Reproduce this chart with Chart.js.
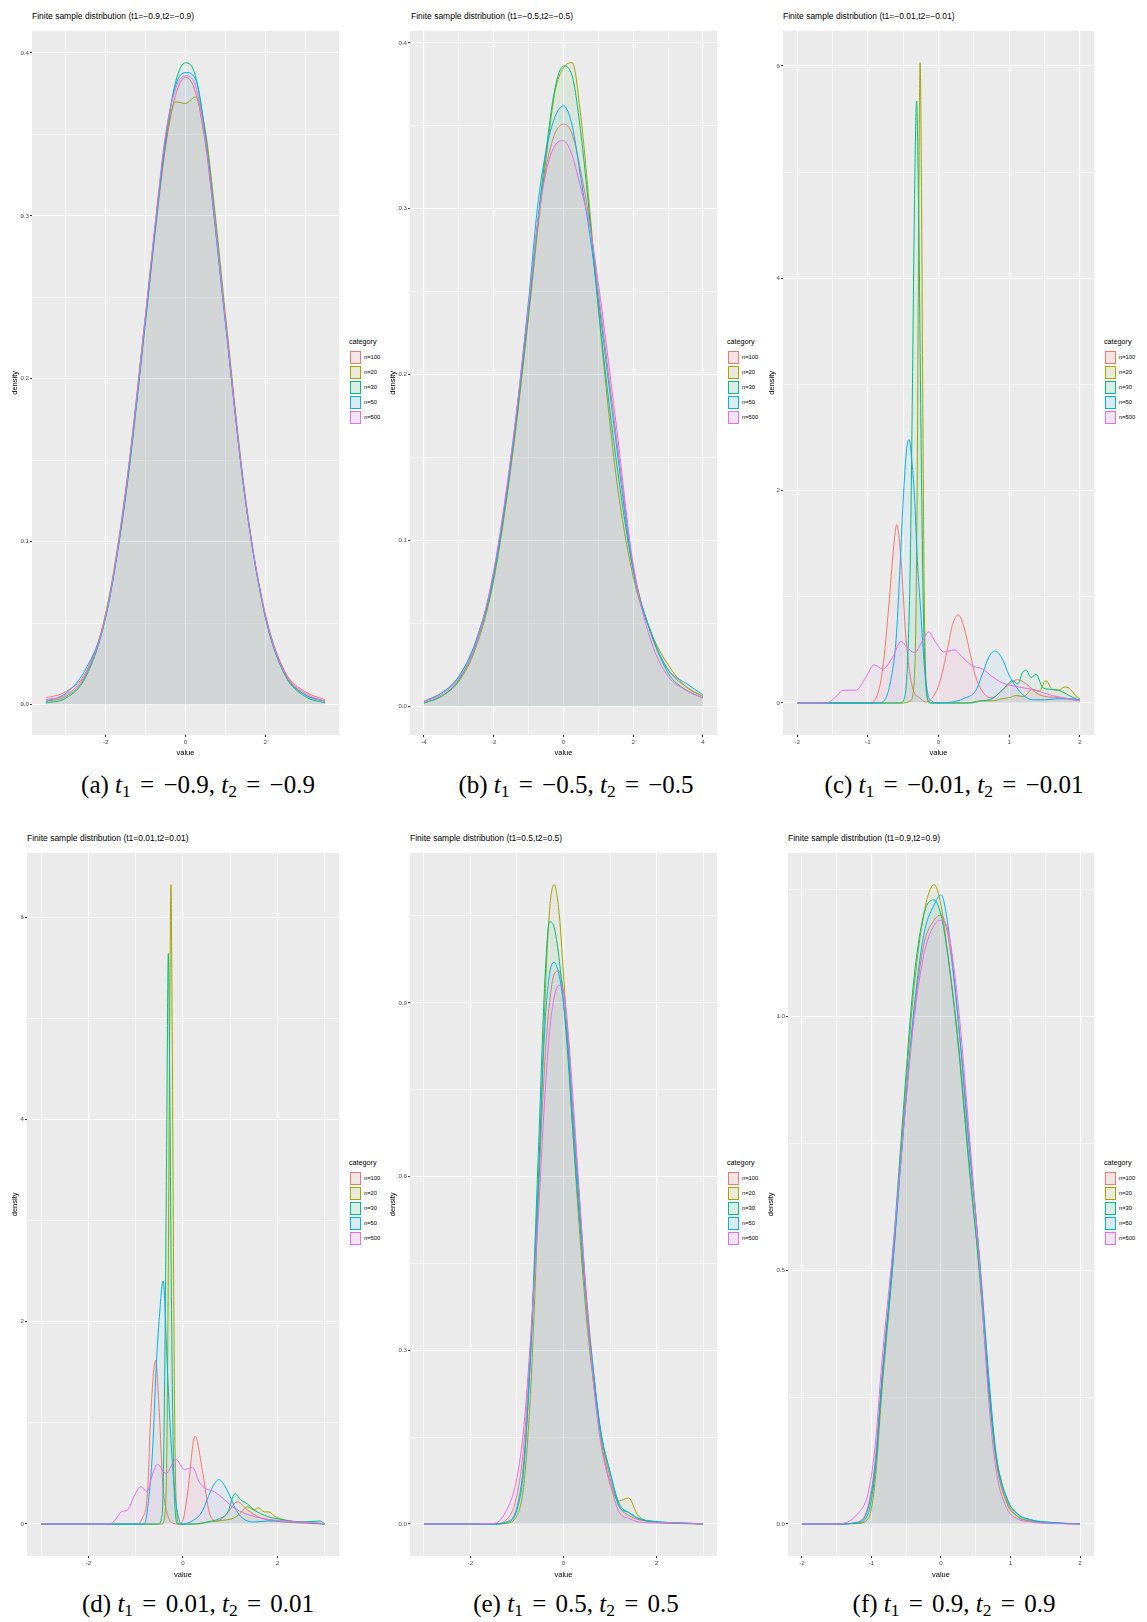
<!DOCTYPE html>
<html>
<head>
<meta charset="utf-8">
<script src="https://cdn.jsdelivr.net/npm/chart.js@4.4.1/dist/chart.umd.min.js"></script>
<style>
body { margin: 0; background: #fff; }
#pagina { position: relative; width: 1147px; height: 1622px; overflow: hidden; font-family: 'Liberation Sans', Arial, sans-serif; }
canvas { position: absolute; }
.titulo { position: absolute; font-size: 8.5px; line-height: 10px; color: #000; white-space: nowrap; }
.leyenda { position: absolute; color: #000; }
.leyenda .lt { font-size: 7.2px; line-height: 10px; white-space: nowrap; }
.leyenda .clave { position: absolute; left: 1px; width: 11px; height: 13px; box-sizing: border-box; border: 1px solid; }
.leyenda .lab { position: absolute; left: 15px; line-height: 13px; font-size: 5.8px; white-space: nowrap; }
.pie { position: absolute; width: 360px; text-align: center; font-family: 'Liberation Serif', 'Times New Roman', serif; font-size: 25px; line-height: 26px; white-space: nowrap; color: #000; }
.pie sub { font-size: 0.7em; vertical-align: -0.25em; line-height: 0; }
.pie .ig { margin: 0 3px; }
</style>
</head>
<body>
<div id="pagina"></div>
<script>
// Categorías y colores (paleta por defecto de ggplot)
const categorias = ['n=100', 'n=20', 'n=30', 'n=50', 'n=500'];
const colores = ['#F8766D', '#A3A500', '#00BF7D', '#00B0F6', '#E76BF3'];

// Panel (a): t1=-0.9, t2=-0.9
const aX = [-3.5, -3, -2.5, -2, -1.5, -1, -0.75, -0.5, -0.25, 0, 0.25, 0.5, 0.75, 1, 1.5, 2, 2.5, 3, 3.5];
const a100 = [0.004, 0.008, 0.020, 0.056, 0.128, 0.236, 0.292, 0.342, 0.374, 0.385, 0.376, 0.344, 0.292, 0.236, 0.126, 0.056, 0.020, 0.008, 0.003];
const a20 = [0.002, 0.005, 0.018, 0.056, 0.132, 0.240, 0.296, 0.345, 0.370, 0.369, 0.373, 0.352, 0.300, 0.240, 0.128, 0.054, 0.018, 0.006, 0.002];
const a30 = [0.001, 0.004, 0.017, 0.054, 0.128, 0.236, 0.294, 0.346, 0.382, 0.394, 0.386, 0.350, 0.296, 0.236, 0.126, 0.054, 0.018, 0.005, 0.001];
const a50 = [0.002, 0.007, 0.022, 0.054, 0.130, 0.238, 0.296, 0.348, 0.380, 0.388, 0.384, 0.348, 0.292, 0.234, 0.126, 0.055, 0.019, 0.006, 0.002];
const a500 = [0.003, 0.006, 0.019, 0.055, 0.131, 0.240, 0.298, 0.350, 0.378, 0.386, 0.380, 0.346, 0.294, 0.236, 0.127, 0.055, 0.019, 0.007, 0.002];
const aTicksX = [-2, 0, 2];
const aEtiqX = ['-2', '0', '2'];
const aTicksY = [0, 0.1, 0.2, 0.3, 0.4];
const aEtiqY = ['0.0', '0.1', '0.2', '0.3', '0.4'];

// Panel (b): t1=-0.5, t2=-0.5
const bX = [-4, -3.5, -3, -2.5, -2, -1.5, -1, -0.75, -0.5, -0.25, 0, 0.25, 0.5, 0.75, 1, 1.5, 2, 2.5, 3, 3.5, 4];
const b100 = [0.003, 0.008, 0.018, 0.040, 0.080, 0.150, 0.240, 0.290, 0.325, 0.345, 0.351, 0.345, 0.322, 0.292, 0.250, 0.165, 0.085, 0.044, 0.022, 0.012, 0.006];
const b20 = [0.002, 0.006, 0.015, 0.036, 0.076, 0.145, 0.235, 0.285, 0.330, 0.370, 0.385, 0.388, 0.355, 0.300, 0.240, 0.140, 0.078, 0.045, 0.025, 0.012, 0.006];
const b30 = [0.002, 0.006, 0.016, 0.038, 0.078, 0.148, 0.238, 0.290, 0.335, 0.372, 0.386, 0.380, 0.345, 0.295, 0.240, 0.150, 0.082, 0.045, 0.020, 0.010, 0.005];
const b50 = [0.003, 0.008, 0.018, 0.040, 0.080, 0.150, 0.245, 0.300, 0.335, 0.355, 0.362, 0.350, 0.318, 0.285, 0.245, 0.160, 0.082, 0.045, 0.022, 0.014, 0.007];
const b500 = [0.003, 0.007, 0.017, 0.038, 0.082, 0.152, 0.242, 0.290, 0.322, 0.338, 0.341, 0.332, 0.312, 0.290, 0.255, 0.172, 0.085, 0.040, 0.018, 0.010, 0.005];
const bTicksX = [-4, -2, 0, 2, 4];
const bEtiqX = ['-4', '-2', '0', '2', '4'];
const bTicksY = [0, 0.1, 0.2, 0.3, 0.4];
const bEtiqY = ['0.0', '0.1', '0.2', '0.3', '0.4'];

// Panel (c): t1=-0.01, t2=-0.01 (cada serie con su propia rejilla de x)
const cX100 = [-2, -0.98, -0.88, -0.79, -0.7, -0.64, -0.59, -0.53, -0.46, -0.37, -0.27, -0.18, -0.13, 0.01, 0.13, 0.2, 0.28, 0.35, 0.41, 0.53, 0.67, 0.76, 0.85, 0.95, 1.12, 1.24, 1.42, 1.7, 2.0];
const c100 = [0, 0, 0.05, 0.32, 0.94, 1.43, 1.68, 1.35, 0.61, 0.15, 0.05, 0.01, 0.02, 0.18, 0.52, 0.74, 0.83, 0.74, 0.58, 0.24, 0.07, 0.05, 0.09, 0.15, 0.22, 0.18, 0.08, 0.05, 0.02];
const cX20 = [-2, -0.5, -0.4, -0.35, -0.32, -0.3, -0.28, -0.26, -0.24, -0.22, -0.2, -0.17, -0.14, -0.1, 0.4, 0.5, 0.6, 0.76, 0.9, 1.0, 1.1, 1.2, 1.33, 1.42, 1.52, 1.61, 1.7, 1.78, 1.85, 1.94, 2.0];
const c20 = [0, 0, 0.02, 0.15, 0.8, 2.2, 4.6, 6.03, 4.8, 2.6, 0.9, 0.15, 0.02, 0, 0, 0.01, 0.02, 0.02, 0.04, 0.05, 0.07, 0.06, 0.13, 0.11, 0.21, 0.13, 0.12, 0.15, 0.14, 0.07, 0.04];
const cX30 = [-2, -0.55, -0.48, -0.44, -0.4, -0.37, -0.34, -0.31, -0.28, -0.25, -0.22, -0.19, -0.16, -0.12, 0.45, 0.6, 0.76, 0.9, 1.05, 1.12, 1.19, 1.24, 1.31, 1.38, 1.47, 1.56, 1.7, 1.85, 2.0];
const c30 = [0, 0, 0.05, 0.35, 1.3, 2.9, 4.7, 5.67, 4.6, 2.7, 1.1, 0.3, 0.05, 0, 0, 0.02, 0.04, 0.12, 0.21, 0.18, 0.29, 0.31, 0.24, 0.27, 0.15, 0.13, 0.12, 0.07, 0.02];
const cX50 = [-2, -0.85, -0.75, -0.68, -0.6, -0.55, -0.5, -0.45, -0.415, -0.38, -0.34, -0.3, -0.25, -0.2, -0.15, -0.1, 0, 0.2, 0.35, 0.53, 0.62, 0.71, 0.8, 0.9, 1.0, 1.1, 1.19, 1.33, 1.5, 1.7, 1.85, 2.0];
const c50 = [0, 0, 0.04, 0.2, 0.6, 1.2, 1.9, 2.4, 2.48, 2.3, 1.95, 1.35, 0.85, 0.35, 0.08, 0.02, 0, 0.01, 0.04, 0.12, 0.27, 0.43, 0.49, 0.42, 0.26, 0.15, 0.08, 0.03, 0.03, 0.04, 0.04, 0.03];
const cX500 = [-2, -1.59, -1.45, -1.35, -1.17, -1.03, -0.91, -0.79, -0.65, -0.53, -0.44, -0.34, -0.23, -0.14, -0.04, 0.08, 0.22, 0.34, 0.48, 0.62, 0.76, 0.9, 1.14, 1.38, 1.61, 1.85, 2.0];
const c500 = [0, 0, 0.06, 0.12, 0.12, 0.24, 0.36, 0.32, 0.43, 0.58, 0.52, 0.475, 0.58, 0.67, 0.57, 0.48, 0.5, 0.43, 0.35, 0.32, 0.25, 0.19, 0.15, 0.12, 0.07, 0.04, 0.02];
const cTicksX = [-2, -1, 0, 1, 2];
const cEtiqX = ['-2', '-1', '0', '1', '2'];
const cTicksY = [0, 2, 4, 6];
const cEtiqY = ['0', '2', '4', '6'];

// Panel (d): t1=0.01, t2=0.01
const dX100 = [-3, -1.0, -0.86, -0.75, -0.68, -0.58, -0.5, -0.43, -0.33, -0.22, -0.1, 0.0, 0.1, 0.254, 0.42, 0.56, 0.72, 0.94, 1.15, 1.36, 1.65, 1.93, 2.5, 3.0];
const d100 = [0, 0, 0.06, 0.32, 1.1, 1.62, 1.1, 0.41, 0.1, 0.01, 0, 0.04, 0.32, 0.87, 0.5, 0.11, 0.03, 0.11, 0.22, 0.14, 0.06, 0.03, 0.01, 0];
const dX20 = [-3, -0.45, -0.38, -0.34, -0.31, -0.28, -0.254, -0.23, -0.2, -0.17, -0.13, -0.08, 0.2, 0.4, 0.72, 0.9, 1.08, 1.2, 1.36, 1.5, 1.6, 1.72, 1.82, 1.93, 2.15, 2.5, 2.8, 3.0];
const d20 = [0, 0, 0.1, 0.8, 2.6, 5.0, 6.32, 5.0, 2.6, 0.8, 0.1, 0, 0, 0.01, 0.03, 0.04, 0.06, 0.1, 0.17, 0.14, 0.16, 0.12, 0.12, 0.08, 0.04, 0.02, 0.01, 0];
const dX30 = [-3, -0.52, -0.46, -0.42, -0.38, -0.35, -0.31, -0.28, -0.24, -0.2, -0.16, -0.11, 0.3, 0.51, 0.75, 0.94, 1.1, 1.22, 1.36, 1.5, 1.79, 2.15, 2.5, 2.9, 3.0];
const d30 = [0, 0, 0.05, 0.35, 1.8, 3.5, 5.64, 4.3, 2.0, 0.6, 0.1, 0, 0, 0.02, 0.05, 0.11, 0.30, 0.24, 0.2, 0.14, 0.075, 0.04, 0.02, 0.03, 0];
const dX50 = [-3, -0.82, -0.75, -0.64, -0.57, -0.5, -0.42, -0.33, -0.27, -0.22, -0.16, -0.11, -0.04, 0.23, 0.4, 0.51, 0.63, 0.76, 0.88, 1.0, 1.1, 1.22, 1.5, 1.8, 2.1, 2.4, 2.7, 3.0];
const d50 = [0, 0, 0.15, 0.76, 1.53, 2.05, 2.40, 1.53, 0.95, 0.58, 0.25, 0.1, 0, 0.04, 0.12, 0.24, 0.37, 0.44, 0.38, 0.27, 0.16, 0.075, 0.02, 0.03, 0.03, 0.02, 0.01, 0];
const dX500 = [-3, -1.56, -1.42, -1.31, -1.17, -1.03, -0.89, -0.76, -0.64, -0.54, -0.36, -0.15, 0.03, 0.2, 0.35, 0.49, 0.66, 0.88, 1.08, 1.5, 2.15, 2.86, 3.0];
const d500 = [0, 0, 0.05, 0.12, 0.14, 0.28, 0.37, 0.32, 0.5, 0.59, 0.5, 0.64, 0.54, 0.56, 0.41, 0.35, 0.32, 0.24, 0.16, 0.075, 0.03, 0.01, 0.005];
const dTicksX = [-2, 0, 2];
const dEtiqX = ['-2', '0', '2'];
const dTicksY = [0, 2, 4, 6];
const dEtiqY = ['0', '2', '4', '6'];

// Panel (e): t1=0.5, t2=0.5
const eX = [-3, -2, -1.5, -1.25, -1, -0.85, -0.7, -0.55, -0.4, -0.3, -0.2, -0.1, 0, 0.1, 0.2, 0.35, 0.5, 0.65, 0.8, 1, 1.2, 1.4, 1.6, 2, 2.5, 3];
const e100 = [0, 0, 0, 0.006, 0.05, 0.14, 0.32, 0.56, 0.80, 0.90, 0.95, 0.955, 0.92, 0.84, 0.72, 0.55, 0.39, 0.26, 0.16, 0.08, 0.03, 0.015, 0.008, 0.003, 0.001, 0];
const e20 = [0, 0, 0, 0.001, 0.015, 0.07, 0.24, 0.54, 0.90, 1.06, 1.104, 1.06, 0.95, 0.82, 0.68, 0.50, 0.35, 0.24, 0.15, 0.07, 0.04, 0.045, 0.015, 0.003, 0.001, 0];
const e30 = [0, 0, 0, 0.002, 0.025, 0.10, 0.31, 0.62, 0.94, 1.04, 1.03, 0.98, 0.90, 0.80, 0.68, 0.52, 0.37, 0.25, 0.16, 0.09, 0.03, 0.02, 0.01, 0.004, 0.002, 0];
const e50 = [0, 0, 0, 0.003, 0.03, 0.11, 0.30, 0.58, 0.86, 0.95, 0.97, 0.95, 0.90, 0.82, 0.70, 0.54, 0.38, 0.26, 0.16, 0.09, 0.035, 0.02, 0.01, 0.004, 0.002, 0];
const e500 = [0, 0, 0.001, 0.02, 0.08, 0.17, 0.33, 0.52, 0.74, 0.85, 0.91, 0.93, 0.92, 0.85, 0.74, 0.56, 0.38, 0.24, 0.14, 0.07, 0.02, 0.01, 0.004, 0.002, 0.002, 0];
const eTicksX = [-2, 0, 2];
const eEtiqX = ['-2', '0', '2'];
const eTicksY = [0, 0.3, 0.6, 0.9];
const eEtiqY = ['0.0', '0.3', '0.6', '0.9'];

// Panel (f): t1=0.9, t2=0.9
const fX = [-2, -1.5, -1.2, -1.05, -0.95, -0.85, -0.7, -0.55, -0.4, -0.25, -0.1, 0, 0.1, 0.25, 0.4, 0.55, 0.7, 0.8, 0.95, 1.1, 1.3, 1.6, 2];
const f100 = [0, 0, 0.004, 0.035, 0.12, 0.29, 0.51, 0.76, 0.99, 1.14, 1.19, 1.20, 1.16, 0.99, 0.76, 0.53, 0.26, 0.12, 0.045, 0.015, 0.005, 0.002, 0];
const f20 = [0, 0, 0.001, 0.01, 0.08, 0.26, 0.50, 0.78, 1.04, 1.20, 1.26, 1.22, 1.12, 0.95, 0.72, 0.50, 0.24, 0.12, 0.04, 0.015, 0.006, 0.002, 0];
const f30 = [0, 0, 0.002, 0.02, 0.10, 0.28, 0.52, 0.80, 1.06, 1.20, 1.23, 1.20, 1.12, 0.94, 0.71, 0.50, 0.25, 0.13, 0.05, 0.02, 0.008, 0.003, 0];
const f50 = [0, 0, 0.003, 0.03, 0.11, 0.28, 0.50, 0.76, 1.00, 1.16, 1.22, 1.24, 1.18, 0.99, 0.75, 0.53, 0.27, 0.13, 0.05, 0.02, 0.008, 0.003, 0];
const f500 = [0, 0, 0.02, 0.06, 0.15, 0.32, 0.53, 0.76, 0.98, 1.12, 1.18, 1.19, 1.17, 1.02, 0.78, 0.52, 0.22, 0.10, 0.03, 0.01, 0.004, 0.001, 0];
const fTicksX = [-2, -1, 0, 1, 2];
const fEtiqX = ['-2', '-1', '0', '1', '2'];
const fTicksY = [0, 0.5, 1.0];
const fEtiqY = ['0.0', '0.5', '1.0'];

// Posición de cada panel en la página
const paneles = [
    { letra: 'a', t: '−0.9', xs: [aX, aX, aX, aX, aX], ys: [a100, a20, a30, a50, a500], tx: aTicksX, ex: aEtiqX, ty: aTicksY, ey: aEtiqY,
      izq: 10, arriba: 26, ancho: 329, alto: 731, ejeY: 22, ejeX: 22, titX: 32, titY: 10.5, leyX: 349, leyY: 337, pieX: 198, pieY: 772 },
    { letra: 'b', t: '−0.5', xs: [bX, bX, bX, bX, bX], ys: [b100, b20, b30, b50, b500], tx: bTicksX, ex: bEtiqX, ty: bTicksY, ey: bEtiqY,
      izq: 388, arriba: 26, ancho: 329, alto: 731, ejeY: 22, ejeX: 22, titX: 411, titY: 10.5, leyX: 727, leyY: 337, pieX: 576, pieY: 772 },
    { letra: 'c', t: '−0.01', xs: [cX100, cX20, cX30, cX50, cX500], ys: [c100, c20, c30, c50, c500], tx: cTicksX, ex: cEtiqX, ty: cTicksY, ey: cEtiqY,
      izq: 767, arriba: 26, ancho: 327, alto: 731, ejeY: 16, ejeX: 22, titX: 783, titY: 10.5, leyX: 1104, leyY: 337, pieX: 954, pieY: 772 },
    { letra: 'd', t: '0.01', xs: [dX100, dX20, dX30, dX50, dX500], ys: [d100, d20, d30, d50, d500], tx: dTicksX, ex: dEtiqX, ty: dTicksY, ey: dEtiqY,
      izq: 10, arriba: 848, ancho: 329, alto: 731, ejeY: 17, ejeX: 23, titX: 27, titY: 832.5, leyX: 349, leyY: 1158, pieX: 198, pieY: 1591 },
    { letra: 'e', t: '0.5', xs: [eX, eX, eX, eX, eX], ys: [e100, e20, e30, e50, e500], tx: eTicksX, ex: eEtiqX, ty: eTicksY, ey: eEtiqY,
      izq: 388, arriba: 848, ancho: 329, alto: 731, ejeY: 22, ejeX: 23, titX: 410, titY: 832.5, leyX: 727, leyY: 1158, pieX: 576, pieY: 1591 },
    { letra: 'f', t: '0.9', xs: [fX, fX, fX, fX, fX], ys: [f100, f20, f30, f50, f500], tx: fTicksX, ex: fEtiqX, ty: fTicksY, ey: fEtiqY,
      izq: 766, arriba: 848, ancho: 328, alto: 731, ejeY: 22, ejeX: 23, titX: 788, titY: 832.5, leyX: 1104, leyY: 1158, pieX: 954, pieY: 1591 }
];

const pagina = document.getElementById('pagina');
const fuente = "'Liberation Sans', Arial, sans-serif";
const alfaRelleno = 0.05;

// Convierte un color hex en rgba con transparencia
function rgba(hex, a) {
    const n = parseInt(hex.slice(1), 16);
    return 'rgba(' + (n >> 16) + ',' + ((n >> 8) & 255) + ',' + (n & 255) + ',' + a + ')';
}

// Rango con la expansión del 5% que usa ggplot
function rango(listas) {
    let min = Infinity, max = -Infinity;
    listas.forEach(l => l.forEach(v => { if (v < min) min = v; if (v > max) max = v; }));
    const m = (max - min) * 0.05;
    return [min - m, max + m];
}

// Cortes menores: puntos medios entre los cortes mayores
function menores(mayores, lo, hi) {
    const paso = mayores[1] - mayores[0];
    const out = [];
    for (let v = mayores[0] - paso / 2; v <= hi + 1e-9; v += paso) {
        if (v >= lo) out.push(Math.round(v * 1e6) / 1e6);
    }
    return out;
}

// Fondo gris del panel
const fondoPanel = {
    id: 'fondoPanel',
    beforeDraw(chart) {
        const { ctx, chartArea: a } = chart;
        ctx.save();
        ctx.fillStyle = '#EBEBEB';
        ctx.fillRect(a.left, a.top, a.right - a.left, a.bottom - a.top);
        ctx.restore();
    }
};

// Opciones de un eje con rejilla mayor y menor al estilo ggplot
function opcionesEje(mayores, etiquetas, lim, titulo, esX, tam) {
    const todos = mayores.concat(menores(mayores, lim[0], lim[1])).filter(v => v >= lim[0] && v <= lim[1]);
    const esMayor = v => mayores.some(m => Math.abs(m - v) < 1e-9);
    return {
        type: 'linear',
        min: lim[0],
        max: lim[1],
        afterFit: s => { if (esX) s.height = tam; else s.width = tam; },
        afterBuildTicks: s => { s.ticks = todos.slice().sort((p, q) => p - q).map(v => ({ value: v })); },
        border: { display: false },
        grid: {
            color: '#FFFFFF',
            lineWidth: c => (c.tick && esMayor(c.tick.value)) ? 1.1 : 0.55,
            drawTicks: true,
            tickLength: 2,
            tickWidth: 1,
            tickColor: c => (c.tick && esMayor(c.tick.value)) ? '#333333' : 'rgba(0,0,0,0)'
        },
        ticks: {
            autoSkip: false,
            maxRotation: 0,
            padding: esX ? 2 : 1,
            color: '#4D4D4D',
            font: { family: fuente, size: 6.2 },
            callback: v => {
                const i = mayores.findIndex(m => Math.abs(m - v) < 1e-9);
                return i >= 0 ? etiquetas[i] : '';
            }
        },
        title: { display: true, text: titulo, color: '#000', padding: 0, font: { family: fuente, size: 7.5 } }
    };
}

// Crea un panel completo: título, gráfico, leyenda y pie
function crearPanel(p) {
    const tit = document.createElement('div');
    tit.className = 'titulo';
    tit.style.left = p.titX + 'px';
    tit.style.top = p.titY + 'px';
    const tv = p.t;
    tit.textContent = 'Finite sample distribution (t1=' + tv + ',t2=' + tv + ')';
    pagina.appendChild(tit);

    const cv = document.createElement('canvas');
    cv.width = p.ancho;
    cv.height = p.alto;
    cv.style.left = p.izq + 'px';
    cv.style.top = p.arriba + 'px';
    pagina.appendChild(cv);

    const limX = rango(p.xs);
    const limY = rango(p.ys);

    const datasets = categorias.map((c, i) => ({
        label: c,
        data: p.xs[i].map((x, j) => ({ x: x, y: p.ys[i][j] })),
        borderColor: colores[i],
        backgroundColor: rgba(colores[i], alfaRelleno),
        borderWidth: 1,
        fill: 'origin',
        pointRadius: 0,
        cubicInterpolationMode: 'monotone',
        order: categorias.length - i
    }));

    new Chart(cv.getContext('2d'), {
        type: 'line',
        data: { datasets: datasets },
        plugins: [fondoPanel],
        options: {
            responsive: false,
            animation: false,
            devicePixelRatio: 1,
            layout: { padding: 0, autoPadding: false },
            plugins: { legend: { display: false }, tooltip: { enabled: false } },
            scales: {
                x: opcionesEje(p.tx, p.ex, limX, 'value', true, p.ejeX),
                y: opcionesEje(p.ty, p.ey, limY, 'density', false, p.ejeY)
            }
        }
    });

    // Leyenda a la derecha del panel
    const ley = document.createElement('div');
    ley.className = 'leyenda';
    ley.style.left = p.leyX + 'px';
    ley.style.top = p.leyY + 'px';
    let html = '<div class="lt">category</div>';
    categorias.forEach((c, i) => {
        const y = 14 + i * 15;
        html += '<div class="clave" style="top:' + y + 'px;border-color:' + colores[i] +
                ';background:linear-gradient(' + rgba(colores[i], 0.1) + ',' + rgba(colores[i], 0.1) + '),#F2F2F2"></div>';
        html += '<div class="lab" style="top:' + y + 'px">' + c + '</div>';
    });
    ley.innerHTML = html;
    pagina.appendChild(ley);

    // Pie de figura
    const pie = document.createElement('div');
    pie.className = 'pie';
    pie.style.left = (p.pieX - 180) + 'px';
    pie.style.top = p.pieY + 'px';
    pie.innerHTML = '(' + p.letra + ') <i>t</i><sub>1</sub><span class="ig"> = </span>' + tv +
                    ', <i>t</i><sub>2</sub><span class="ig"> = </span>' + tv;
    pagina.appendChild(pie);
}

document.addEventListener('DOMContentLoaded', () => {
    paneles.forEach(p => crearPanel(p));
});
</script>
</body>
</html>
